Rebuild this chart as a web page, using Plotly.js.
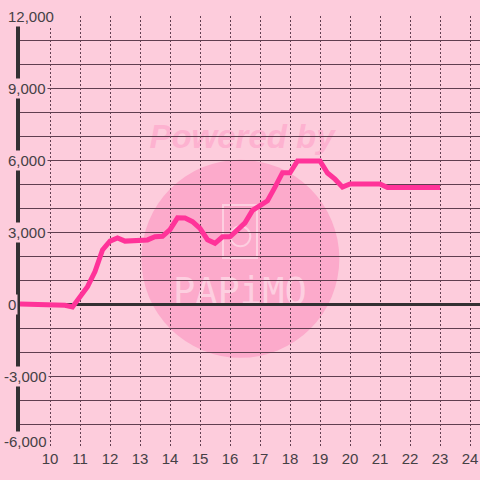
<!DOCTYPE html>
<html>
<head>
<meta charset="utf-8">
<script src="https://cdn.plot.ly/plotly-3.0.1.min.js"></script>
<style>html,body{margin:0;padding:0;background:#fdccdc;}#chart{width:480px;height:480px;}</style>
</head>
<body>
<div id="chart"></div>
<script>
// Data: hour of day vs cumulative value
const hours = [9.0, 10.0, 10.5, 10.75, 11.0, 11.25, 11.5, 11.75, 12.0, 12.25, 12.5, 13.0, 13.25, 13.5, 13.75, 14.0, 14.25, 14.5, 14.75, 15.0, 15.25, 15.5, 15.75, 16.0, 16.25, 16.5, 16.75, 17.0, 17.25, 17.5, 17.75, 18.0, 18.25, 19.0, 19.25, 19.5, 19.75, 20.0, 21.0, 21.25, 23.0];
const values = [0, 0, -50, -120, 300, 720, 1350, 2250, 2620, 2750, 2620, 2620, 2670, 2800, 2820, 3100, 3590, 3580, 3430, 3150, 2680, 2530, 2800, 2800, 3100, 3380, 3900, 4100, 4300, 4870, 5470, 5470, 5960, 5960, 5460, 5200, 4870, 5000, 5000, 4850, 4850];
const xTicks = [10, 11, 12, 13, 14, 15, 16, 17, 18, 19, 20, 21, 22, 23, 24];
const xTickText = ['10', '11', '12', '13', '14', '15', '16', '17', '18', '19', '20', '21', '22', '23', '24'];
const yTickVals = [12000, 9000, 6000, 3000, 0, -3000, -6000];
const yTickText = ['12,000', '9,000', '6,000', '3,000', '0', '-3,000', '-6,000'];

const BG = '#fdccdc';
const GRID = '#603e50';
const TXT = '#454045';
const FONT = 'Liberation Sans, Arial, sans-serif';
const WM = '#fdcfe0';

const trace = {
  x: hours, y: values, type: 'scatter', mode: 'lines',
  line: {color: '#ff3399', width: 5, shape: 'linear'},
  hoverinfo: 'skip'
};

const annotations = yTickVals.map((v, i) => ({
  x: 0, xref: 'paper', y: v, yref: 'y', text: yTickText[i],
  xanchor: 'left', yanchor: 'middle',
  xshift: yTickText[i].startsWith('-') ? -18 : -14,
  yshift: i === yTickVals.length - 1 ? 7 : 0,
  showarrow: false, bgcolor: BG, borderpad: 1,
  font: {family: FONT, size: 15, color: TXT}
}));

const shapes = [
  {type: 'circle', xref: 'paper', yref: 'paper', xsizemode: 'pixel', ysizemode: 'pixel',
   xanchor: 0.479, yanchor: 0.438, x0: -99, x1: 99, y0: -99, y1: 99,
   fillcolor: '#fcaacb', line: {width: 0}, layer: 'below'},
  {type: 'rect', xref: 'paper', yref: 'paper', x0: 0.2652, x1: 0.70, y0: 0.692, y1: 0.766,
   fillcolor: 'rgba(0,0,0,0)', line: {width: 0}, layer: 'below',
   label: {text: 'Powered by', textposition: 'middle center',
     font: {family: FONT, size: 33, color: '#fdb2d0', weight: 'bold', style: 'italic'}}},
  {type: 'rect', xref: 'paper', yref: 'paper', x0: 0.326, x1: 0.630, y0: 0.3287, y1: 0.412,
   fillcolor: 'rgba(0,0,0,0)', line: {width: 0}, layer: 'below',
   label: {text: 'PAPiMO', textposition: 'middle center',
     font: {family: 'DejaVu Sans Mono, monospace', size: 37, color: WM, weight: 'normal'}}},
  {type: 'rect', xref: 'paper', yref: 'paper', x0: 0.4413, x1: 0.5152, y0: 0.44, y1: 0.5625,
   fillcolor: 'rgba(0,0,0,0)', line: {width: 2, color: WM}, layer: 'below'},
  {type: 'circle', xref: 'paper', yref: 'paper', xsizemode: 'pixel', ysizemode: 'pixel',
   xanchor: 0.479, yanchor: 0.49, x0: -10, x1: 10, y0: -10, y1: 10,
   fillcolor: 'rgba(0,0,0,0)', line: {width: 2, color: WM}, layer: 'below'}
];

const layout = {
  width: 480, height: 480,
  paper_bgcolor: BG, plot_bgcolor: BG,
  margin: {l: 20, r: 0, t: 16, b: 32, pad: 0},
  showlegend: false,
  font: {family: FONT, size: 15, color: TXT},
  xaxis: {
    range: [9, 9 + 460 / 30], tickvals: xTicks, ticktext: xTickText,
    showgrid: true, gridcolor: GRID, gridwidth: 1, griddash: '2px,2px',
    zeroline: false, showline: false, ticks: '',
    tickfont: {family: FONT, size: 15, color: TXT}, fixedrange: true
  },
  yaxis: {
    range: [-6000, 12000], tick0: 0, dtick: 1000, showticklabels: false,
    showgrid: true, gridcolor: GRID, gridwidth: 1,
    zeroline: true, zerolinecolor: '#333033', zerolinewidth: 3,
    showline: true, linecolor: '#333033', linewidth: 4, ticks: '', fixedrange: true
  },
  annotations: annotations,
  shapes: shapes
};

Plotly.newPlot('chart', [trace], layout, {displayModeBar: false, staticPlot: true});
</script>
</body>
</html>
